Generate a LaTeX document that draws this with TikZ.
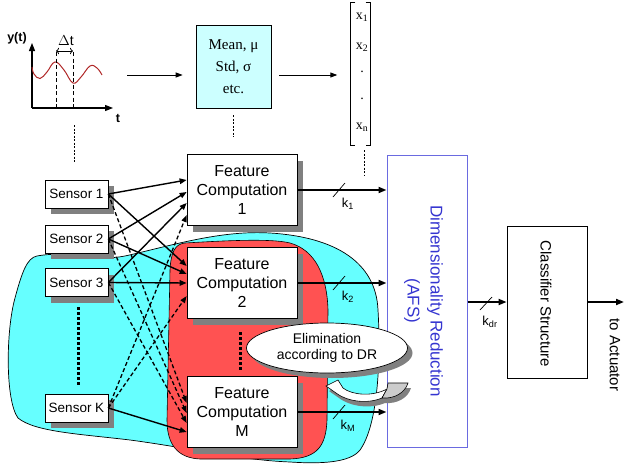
\documentclass[tikz,border=0pt]{standalone}
\usepackage{fontspec}
\setmainfont{Liberation Sans}
\newfontfamily\serif{Liberation Serif}
\usetikzlibrary{shapes.geometric,shadows,arrows.meta,calc}
\definecolor{cyanblob}{HTML}{66FFFF}
\definecolor{redblob}{HTML}{FF5252}
\definecolor{meanfill}{HTML}{CCFFFF}
\definecolor{shadowgray}{HTML}{808080}
\definecolor{drblue}{HTML}{3535D0}
\definecolor{drline}{HTML}{6A6AE0}
\definecolor{sinered}{HTML}{B02828}
\begin{document}
\begin{tikzpicture}[x=1pt,y=-1pt,
  boxshadow/.style={drop shadow={shadow xshift=6pt,shadow yshift=-6pt,fill=shadowgray,opacity=1}},
  sensorbox/.style={draw,fill=white,line width=0.7pt,minimum width=63pt,minimum height=28pt,inner sep=0pt,
    font=\fontsize{13.5}{16}\selectfont,boxshadow},
  fcbox/.style={draw,fill=white,line width=0.7pt,minimum width=110pt,minimum height=71pt,inner sep=0pt,
    align=center,font=\fontsize{16}{19}\selectfont,boxshadow},
  arr/.style={line width=1.4pt,-{Triangle[length=7pt,width=5.5pt]}},
  bigarr/.style={line width=1.8pt,-{Triangle[length=8pt,width=6pt]}},
  darr/.style={line width=1.3pt,dash pattern=on 4pt off 2.5pt,-{Triangle[length=7pt,width=5pt]}},
  thindot/.style={line width=0.8pt,dash pattern=on 2pt off 1.5pt},
  thickdot/.style={line width=3pt,dash pattern=on 3pt off 2pt},
  klabel/.style={font=\fontsize{13}{15}\selectfont},
  serifnode/.style={font=\serif\fontsize{14}{16}\selectfont}]
\useasboundingbox (0,0) rectangle (625,466);

% blobs
\draw[fill=cyanblob,line width=0.7pt] (37,256) .. controls (70,250) and (95,262) .. (125,256)
  .. controls (170,246) and (220,230) .. (270,233)
  .. controls (335,237) and (376,262) .. (378,310)
  .. controls (381,360) and (378,425) .. (360,450)
  .. controls (350,463) and (320,464) .. (290,462)
  .. controls (240,460) and (190,448) .. (130,440)
  .. controls (80,434) and (35,432) .. (18,418)
  .. controls (5,400) and (6,330) .. (15,298)
  .. controls (22,272) and (27,258) .. (37,256) -- cycle;
\draw[fill=redblob,line width=0.6pt] (185,243) .. controls (220,241) and (270,238) .. (290,243)
  .. controls (315,250) and (327,275) .. (328,310)
  -- (327,420)
  .. controls (326,445) and (318,458) .. (290,459)
  -- (200,459)
  .. controls (178,458) and (167,445) .. (167,420)
  -- (170,270)
  .. controls (171,252) and (175,244) .. (185,243) -- cycle;

% signal plot
\draw[line width=1.2pt,-{Triangle[length=8pt,width=6pt]}] (32,108) -- (32,43);
\draw[line width=1.2pt,-{Triangle[length=8pt,width=6pt]}] (32,108) -- (113,108);
\draw[sinered,line width=1pt] plot[smooth,tension=0.7] coordinates {(32,67) (34,74) (40,78.5) (47,72) (55,62) (64,70) (73,83) (81,77) (90,66) (97,68) (102,75)};
\draw[line width=0.8pt,dash pattern=on 4pt off 2.5pt] (56,52) -- (56,108);
\draw[line width=0.8pt,dash pattern=on 4pt off 2.5pt] (73,52) -- (73,108);
\draw[line width=0.8pt,{To[length=3pt]}-{To[length=3pt]}] (56,51) -- (73,51);
\node[font=\bfseries\fontsize{12.5}{14}\selectfont] (ylab) at (17,38) {y(t)};
\node[font=\fontsize{14}{16}\selectfont] (dtlab) at (66,41) {$\Delta$t};
\node[font=\bfseries\fontsize{12.5}{14}\selectfont] (tlab) at (118,118) {t};
\coordinate (plotend) at (127,75);

% statistics box
\node[draw,fill=meanfill,line width=0.6pt,minimum width=75pt,minimum height=83pt,inner sep=0pt,align=center,
  font=\serif\fontsize{15}{22}\selectfont] (mean) at (233.5,66.5) {Mean, μ\\Std, σ\\etc.};
\draw[line width=1pt,-{Triangle[length=7pt,width=5pt]}] (plotend) -- ([xshift=-13pt]mean.west |- plotend);

% feature vector
\node[minimum width=20pt,minimum height=142pt,inner sep=0pt] (vec) at (360.5,74) {};
\draw[line width=0.7pt] ([xshift=5pt]vec.north west) -- (vec.north west) -- (vec.south west) -- ([xshift=5pt]vec.south west);
\draw[line width=0.7pt] ([xshift=-5pt]vec.north east) -- (vec.north east) -- (vec.south east) -- ([xshift=-5pt]vec.south east);
\node[serifnode] (x1) at (362,17) {x\textsubscript{1}};
\node[serifnode] (x2) at (362,47) {x\textsubscript{2}};
\node[serifnode] (xd1) at (362,72) {.};
\node[serifnode] (xd2) at (362,99) {.};
\node[serifnode] (xn) at (362,127) {x\textsubscript{n}};
\draw[line width=1pt,-{Triangle[length=7pt,width=5pt]}] ([xshift=8pt]mean.east |- plotend) -- ([xshift=-13pt]vec.west |- plotend);

% thin dotted guides
\draw[thindot] (74,125) -- (74,163);
\draw[thindot] ([yshift=-7pt]mean.south) -- ([yshift=-29pt]mean.south);
\draw[thindot] (364,150) -- (364,175);

% DR and classifier
\node[draw=drline,line width=1pt,fill=none,minimum width=80pt,minimum height=292pt,inner sep=0pt] (dr) at (427,301) {};
\node[rotate=-90,align=center,text=drblue,font=\fontsize{17}{23}\selectfont] (drtext) at (423.5,301) {Dimensionality Reduction\\(AFS)};
\node[draw,line width=0.8pt,minimum width=80pt,minimum height=152pt,inner sep=0pt] (cls) at (547,302) {};
\node[rotate=-90,font=\fontsize{15}{17}\selectfont] (clstext) at (546,304) {Classifier Structure};
\coordinate (act) at (624,302);
\node[rotate=-90,font=\fontsize{15}{17}\selectfont] (acttext) at (615,355) {to Actuator};

% sensors
\node[sensorbox] (s1) at (76.5,194) {Sensor 1};
\node[sensorbox] (s2) at (76.5,239) {Sensor 2};
\node[sensorbox] (s3) at (76.5,282.5) {Sensor 3};
\node[sensorbox] (sk) at (76.5,408) {Sensor K};
\draw[thickdot] (78,307) -- (78,385);

% feature computation boxes
\node[fcbox] (fc1) at (242,190) {Feature\\Computation\\1};
\node[fcbox] (fc2) at (242,283) {Feature\\Computation\\2};
\node[fcbox] (fcm) at (242,412) {Feature\\Computation\\M};
\draw[thickdot] (240,332) -- (240,370);

% sensor -> feature computation
\draw[arr] (s1.east) -- ([yshift=10pt]fc1.west);
\draw[arr] (s2.east) -- ([yshift=-2pt]fc1.west);
\draw[arr] (s3.east) -- ([yshift=-13pt]fc1.west);
\draw[darr] (sk.east) -- ([yshift=-25pt]fc1.west);
\draw[arr] (s1.east) -- ([yshift=17pt]fc2.west);
\draw[arr] (s2.east) -- ([yshift=9pt]fc2.west);
\draw[arr] (s3.east) -- ([yshift=0pt]fc2.west);
\draw[darr] (sk.east) -- ([yshift=-13pt]fc2.west);
\draw[darr] (s1.east) -- ([yshift=9pt]fcm.west);
\draw[darr] (s2.east) -- ([yshift=-1pt]fcm.west);
\draw[darr] (s3.east) -- ([yshift=-11pt]fcm.west);
\draw[arr] (sk.east) -- ([yshift=-20pt]fcm.west);

% feature computation -> DR
\draw[bigarr] (fc1.east) -- (fc1.east -| dr.west);
\draw[bigarr] (fc2.east) -- (fc2.east -| dr.west);
\draw[bigarr] (fcm.east) -- (fcm.east -| dr.west);
\draw[line width=0.7pt] (333,197) -- (345,183);
\draw[line width=0.7pt] (333,290) -- (345,276);
\draw[line width=0.7pt] (333,419) -- (345,405);
\node[klabel] (k1) at (348,204) {k\textsubscript{1}};
\node[klabel] (k2) at (348,297) {k\textsubscript{2}};
\node[klabel] (km) at (348,426) {k\textsubscript{M}};

% DR -> classifier -> actuator
\draw[bigarr] (dr.east |- cls.west) -- (cls.west);
\draw[line width=0.7pt] (480,310) -- (492,297);
\node[klabel] (kdr) at (490,322) {k\textsubscript{dr}};
\draw[bigarr] (cls.east) -- (act);

% elimination ellipse
\node[ellipse,draw,fill=white,line width=0.7pt,minimum width=161pt,minimum height=50pt,inner sep=0pt,align=center,
  font=\fontsize{14}{15.5}\selectfont,
  drop shadow={shadow xshift=5pt,shadow yshift=-5pt,fill=shadowgray,opacity=1}] (elim) at (327,348) {Elimination\\according to DR};

% curved arrow (shadow, white body, grey twisted end)
\begin{scope}[shift={(3pt,-5pt)}]
\fill[shadowgray] (326,386) -- (338,380) -- (343,388) .. controls (352,395) and (372,397) .. (387,389)
  -- (388,383) -- (408,383) .. controls (405,393) and (394,399) .. (382,398)
  .. controls (368,404) and (348,402) .. (336,393) -- cycle;
\end{scope}
\draw[fill=white,line width=0.6pt] (326,386) -- (338,380) -- (343,388) .. controls (352,395) and (372,397) .. (387,389)
  -- (382,398) .. controls (368,404) and (348,402) .. (336,393) -- cycle;
\draw[fill=gray!40,line width=0.6pt] (387,389) -- (388,383) -- (408,383) .. controls (405,393) and (394,399) .. (382,398) -- cycle;
\end{tikzpicture}
\end{document}
